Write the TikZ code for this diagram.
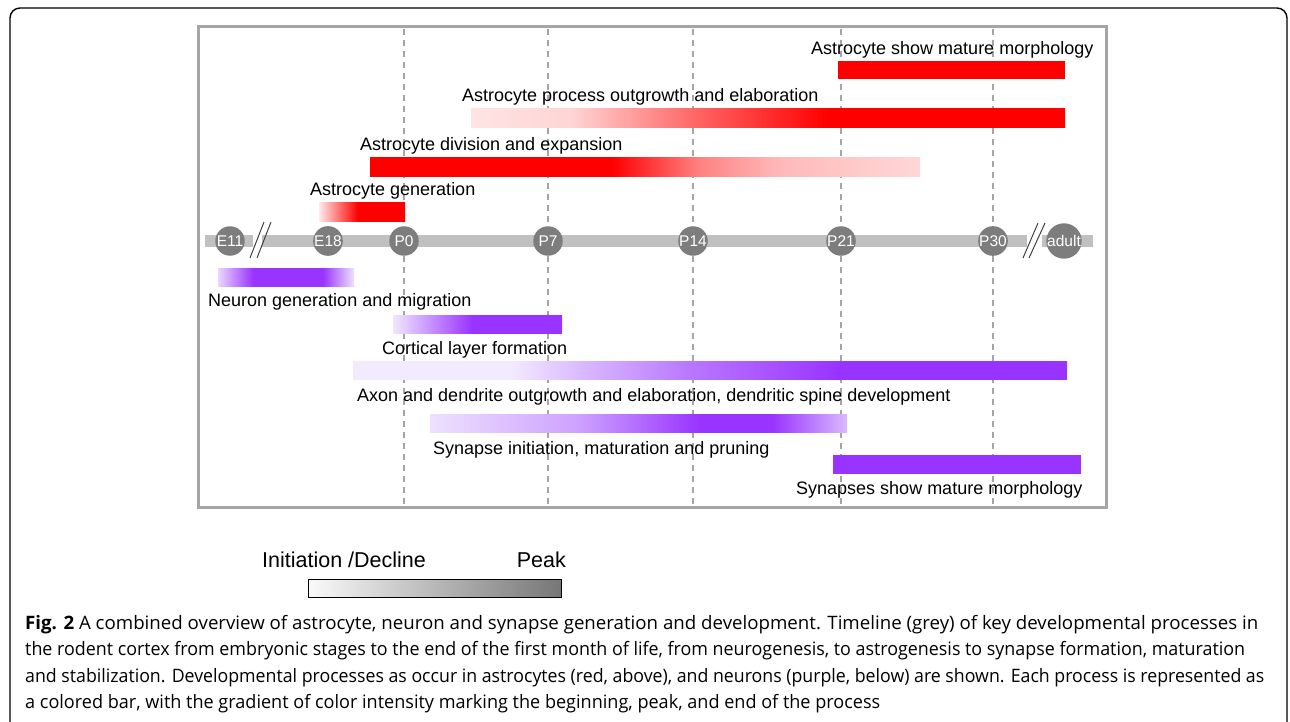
\documentclass[tikz,border=0pt]{standalone}
\usepackage{fontspec}
\usepackage{graphicx}
\setmainfont{Liberation Sans}
\newfontfamily\capfont{Open Sans}
\definecolor{aRed}{RGB}{255,0,0}
\definecolor{nPur}{RGB}{153,51,255}
\definecolor{pkA}{RGB}{255,228,228}
\definecolor{pkB}{RGB}{255,212,212}
\definecolor{pkC}{RGB}{255,100,100}
\definecolor{pkD}{RGB}{255,130,130}
\definecolor{pkE}{RGB}{255,185,185}
\definecolor{pkF}{RGB}{255,215,215}
\definecolor{pkG}{RGB}{255,235,235}
\definecolor{lvA}{RGB}{232,215,255}
\definecolor{lvB}{RGB}{238,225,255}
\definecolor{lvC}{RGB}{240,230,255}
\definecolor{lvD}{RGB}{242,235,255}
\definecolor{lvE}{RGB}{218,185,255}
\definecolor{lvF}{RGB}{185,120,255}
\definecolor{lvG}{RGB}{205,160,255}
\definecolor{tlGray}{RGB}{192,192,192}
\definecolor{ciGray}{RGB}{125,125,125}
\definecolor{frGray}{RGB}{165,165,165}
\definecolor{dsGray}{RGB}{165,165,165}
\definecolor{lgA}{RGB}{250,250,250}
\definecolor{lgB}{RGB}{118,118,118}
\pgfdeclarehorizontalshading{ashProc}{100bp}{color(0bp)=(pkA); color(25bp)=(pkA); color(33.5bp)=(pkB); color(44bp)=(pkC); color(55bp)=(aRed); color(100bp)=(aRed)}
\pgfdeclarehorizontalshading{ashDiv}{100bp}{color(0bp)=(aRed); color(47bp)=(aRed); color(55bp)=(pkD); color(62.25bp)=(pkE); color(75bp)=(pkF); color(100bp)=(pkF)}
\pgfdeclarehorizontalshading{ashGen}{100bp}{color(0bp)=(pkG); color(25bp)=(pkG); color(47.5bp)=(aRed); color(100bp)=(aRed)}
\pgfdeclarehorizontalshading{nshGen}{100bp}{color(0bp)=(lvA); color(25bp)=(lvA); color(38bp)=(nPur); color(63.5bp)=(nPur); color(75bp)=(lvB); color(100bp)=(lvB)}
\pgfdeclarehorizontalshading{nshCort}{100bp}{color(0bp)=(lvC); color(25bp)=(lvC); color(48.5bp)=(nPur); color(100bp)=(nPur)}
\pgfdeclarehorizontalshading{nshAxon}{100bp}{color(0bp)=(lvD); color(36bp)=(lvD); color(41bp)=(lvE); color(48.5bp)=(lvF); color(59bp)=(nPur); color(100bp)=(nPur)}
\pgfdeclarehorizontalshading{nshSyn}{100bp}{color(0bp)=(lvB); color(25bp)=(lvB); color(43bp)=(lvG); color(57.5bp)=(nPur); color(66bp)=(nPur); color(75bp)=(lvE); color(100bp)=(lvE)}
\pgfdeclarehorizontalshading{gshLeg}{100bp}{color(0bp)=(lgA); color(25bp)=(lgA); color(75bp)=(lgB); color(100bp)=(lgB)}
\begin{document}
\begin{tikzpicture}[x=1pt,y=-1pt,
  bar/.style={draw=none,inner sep=0pt,outer sep=0pt,anchor=north west,minimum height=18.5pt},
  lbl/.style={inner sep=0pt,anchor=base west,font=\fontsize{18}{21}\selectfont},
  tick/.style={circle,fill=ciGray,inner sep=0pt,minimum size=29.5pt,text=white,font=\fontsize{15.5}{17}\selectfont},
  tline/.style={tlGray,line width=12pt},
  brk/.style={black!75,line width=1pt},
  gdash/.style={dsGray,line width=1.4pt,dash pattern=on 6pt off 5pt},
  capline/.style={inner sep=0pt,anchor=base west,font=\capfont\fontsize{18.5}{22}\selectfont}]
\useasboundingbox (0,0) rectangle (1290,722);
% outer frame
\begin{scope}
\clip (0,0) rectangle (1290,722);
\draw[black,line width=1.4pt,rounded corners=10pt] (10,8) rectangle (1287,740);
\end{scope}
% inner gray frame
\draw[frGray,line width=3pt] (198,27) rectangle (1106,507);
\coordinate (ftop) at (0,29);
\coordinate (fbot) at (0,505);
% timeline
\draw[tline] (205,241) -- (253,241);
\draw[tline] (262,241) -- (1027,241);
\draw[tline] (1042,241) -- (1093,241);
\node[tick] (cE11) at (230,241) {E11};
\node[tick] (cE18) at (328,241) {E18};
\node[tick] (cP0) at (404,241) {P0};
\node[tick] (cP7) at (548,241) {P7};
\node[tick] (cP14) at (693,241) {P14};
\node[tick] (cP21) at (841,241) {P21};
\node[tick] (cP30) at (993,241) {P30};
\node[tick] (cAd) at (1064,241) {adult};
% dashed guides
\foreach \c in {cP0,cP7,cP14,cP21,cP30}{
  \draw[gdash] (\c |- ftop) -- (\c.north);
  \draw[gdash] (\c.south) -- (\c |- fbot);
}
% breaks
\draw[brk] (250,258) -- (264,222);
\draw[brk] (257,258) -- (271,222);
\draw[brk] (1023,258) -- (1038,223);
\draw[brk] (1029,258) -- (1045,223);
% astrocyte bars
\node[bar,fill=aRed,minimum width=227pt] (bA1) at (838,61) {};
\node[bar,shading=ashProc,minimum width=594pt] (bA2) at (471,109) {};
\node[bar,shading=ashDiv,minimum width=550pt] (bA3) at (370,158) {};
\node[bar,shading=ashGen,minimum width=86pt] (bA4) at (319,203) {};
\node[lbl] (lA1) at (811,55) {Astrocyte show mature morphology};
\node[lbl] (lA2) at (462,102) {Astrocyte process outgrowth and elaboration};
\node[lbl] (lA3) at (360,151) {Astrocyte division and expansion};
\node[lbl] (lA4) at (310,196) {Astrocyte generation};
% neuron bars
\node[bar,shading=nshGen,minimum width=136pt] (bN1) at (218,268) {};
\node[bar,shading=nshCort,minimum width=169pt] (bN2) at (393,315) {};
\node[bar,shading=nshAxon,minimum width=714pt] (bN3) at (353,361) {};
\node[bar,shading=nshSyn,minimum width=417pt] (bN4) at (430,414) {};
\node[bar,fill=nPur,minimum width=248pt] (bN5) at (833,455) {};
\node[lbl] (lN1) at (208,306) {Neuron generation and migration};
\node[lbl] (lN2) at (382,354) {Cortical layer formation};
\node[lbl] (lN3) at (357,401) {Axon and dendrite outgrowth and elaboration, dendritic spine development};
\node[lbl] (lN4) at (433,454) {Synapse initiation, maturation and pruning};
\node[lbl] (lN5) at (796,494) {Synapses show mature morphology};
% legend
\node[lbl,font=\fontsize{21.5}{24}\selectfont] (lg1) at (262,567) {Initiation /Decline};
\node[lbl,font=\fontsize{21.5}{24}\selectfont,anchor=base east] (lg2) at (566,567) {Peak};
\node[bar,shading=gshLeg,draw=black,line width=1pt,minimum width=253pt,minimum height=18pt] (lgBar) at (308,579) {};
% caption
\node[capline] (cap1) at (25,629) {\resizebox{1233pt}{\height}{\textbf{Fig. 2} A combined overview of astrocyte, neuron and synapse generation and development. Timeline (grey) of key developmental processes in}};
\node[capline] (cap2) at (25,655.5) {\resizebox{1220pt}{\height}{the rodent cortex from embryonic stages to the end of the first month of life, from neurogenesis, to astrogenesis to synapse formation, maturation}};
\node[capline] (cap3) at (25,682) {\resizebox{1239pt}{\height}{and stabilization. Developmental processes as occur in astrocytes (red, above), and neurons (purple, below) are shown. Each process is represented as}};
\node[capline] (cap4) at (25,708.5) {\resizebox{855pt}{\height}{a colored bar, with the gradient of color intensity marking the beginning, peak, and end of the process}};
\end{tikzpicture}
\end{document}
